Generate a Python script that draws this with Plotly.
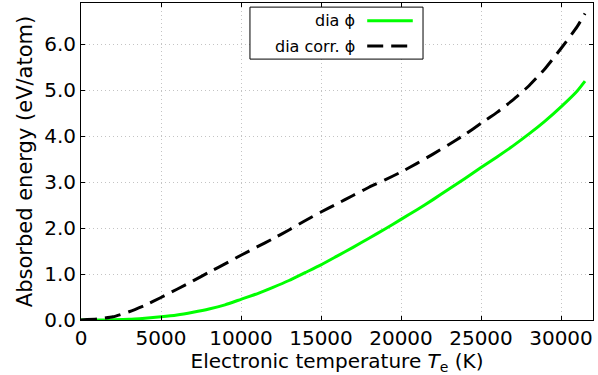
import plotly.graph_objects as go

# Electronic temperature (K)
temperature = [0, 1000, 2000, 3000, 4000, 5000, 6000, 7000, 8000, 9000, 10000,
               11000, 12000, 13000, 14000, 15000, 16000, 17000, 18000, 19000, 20000,
               21000, 22000, 23000, 24000, 25000, 26000, 27000, 28000, 29000, 30000,
               31000, 31500]

# Absorbed energy (eV/atom)
dia_phi = [0.0, 0.0, 0.005, 0.015, 0.04, 0.07, 0.11, 0.17, 0.24, 0.33, 0.45,
           0.57, 0.71, 0.86, 1.03, 1.20, 1.39, 1.58, 1.78, 1.98, 2.19,
           2.40, 2.62, 2.85, 3.08, 3.32, 3.55, 3.79, 4.05, 4.33, 4.64,
           4.98, 5.20]

dia_corr_phi = [0.0, 0.02, 0.07, 0.18, 0.32, 0.49, 0.67, 0.85, 1.04, 1.22, 1.41,
                1.59, 1.77, 1.96, 2.16, 2.35, 2.53, 2.71, 2.89, 3.05, 3.22,
                3.41, 3.61, 3.82, 4.04, 4.28, 4.52, 4.79, 5.10, 5.47, 5.91,
                6.38, 6.67]

series_names = ["dia \u03d5", "dia corr. \u03d5"]
x_ticks = [0, 5000, 10000, 15000, 20000, 25000, 30000]
y_ticks = [0, 1, 2, 3, 4, 5, 6]

FONT = "DejaVu Sans"
GREEN = "#00ff00"
DASH = "16px,8px"

fig = go.Figure()
fig.add_trace(go.Scatter(x=temperature, y=dia_phi, mode="lines", name=series_names[0],
                         line=dict(color=GREEN, width=3, shape="spline", smoothing=0.5),
                         showlegend=False))
fig.add_trace(go.Scatter(x=temperature, y=dia_corr_phi, mode="lines", name=series_names[1],
                         line=dict(color="black", width=3, dash=DASH, shape="spline", smoothing=0.5),
                         showlegend=False))

axis_common = dict(
    showline=True, linecolor="black", linewidth=1, mirror="allticks",
    ticks="inside", ticklen=4, tickcolor="black", tickwidth=1,
    showgrid=True, gridcolor="#c4c4c4", griddash="1px,3px", gridwidth=1,
    zeroline=False, tickfont=dict(family=FONT, size=20, color="black"),
)

fig.update_xaxes(range=[0, 32000], tickvals=x_ticks, tickformat="d",
                 title=dict(text="Electronic temperature <i>T</i><sub>e</sub> (K)",
                            font=dict(family=FONT, size=20, color="black"), standoff=2),
                 **axis_common)
fig.update_yaxes(range=[0, 6.9], tickvals=y_ticks, tickformat=".1f",
                 title=dict(text="Absorbed energy (eV/atom)",
                            font=dict(family=FONT, size=21, color="black"), standoff=5),
                 **axis_common)

# custom legend (text first, line sample after it, as in the reference)
lx0, lx1, ly0, ly1 = 0.330, 0.668, 0.823, 0.987
fig.add_shape(type="rect", xref="paper", yref="paper", x0=lx0, x1=lx1, y0=ly0, y1=ly1,
              line=dict(color="black", width=1), fillcolor="white", layer="above")
rows = [(0.944, dict(color=GREEN, width=3)),
        (0.864, dict(color="black", width=3, dash=DASH))]
for name, (yy, ln) in zip(series_names, rows):
    fig.add_annotation(xref="paper", yref="paper", x=0.539, y=yy, text=name,
                       showarrow=False, xanchor="right", yanchor="middle",
                       font=dict(family=FONT, size=16, color="black"))
    fig.add_shape(type="line", xref="paper", yref="paper", x0=0.559, x1=0.648,
                  y0=yy, y1=yy, line=ln, layer="above")

fig.update_layout(
    width=598, height=375,
    margin=dict(l=81, r=5, t=3, b=55),
    paper_bgcolor="white", plot_bgcolor="white",
    font=dict(family=FONT, color="black"),
)

fig.write_html("out.html")
